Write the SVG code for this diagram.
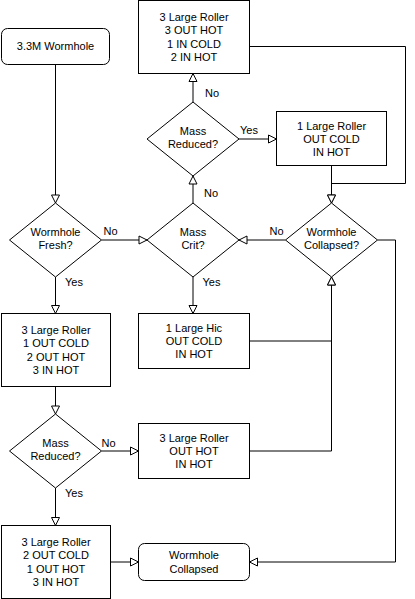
<svg xmlns="http://www.w3.org/2000/svg" width="415" height="599" viewBox="0 0 415 599">
<style>
.s{fill:#fff;stroke:#000;stroke-width:1}
.t{font-family:"Liberation Sans",Arial,sans-serif;font-size:11px;fill:#000;text-anchor:middle}
.c{fill:none;stroke:#000;stroke-width:1}
</style>
<defs>
<marker id="a" markerUnits="userSpaceOnUse" markerWidth="11" markerHeight="11" refX="9" refY="5" orient="auto">
<path d="M1,1 L9,5 L1,9 Z" fill="#fff" stroke="#000" stroke-width="1"/>
</marker>
</defs>
<rect width="415" height="599" fill="#fff"/>
<g id="connectors">
<path class="c" d="M55.5,64.5 V203" marker-end="url(#a)"/>
<path class="c" d="M101.5,240 H147" marker-end="url(#a)"/>
<path class="c" d="M55.5,277 V313.5" marker-end="url(#a)"/>
<path class="c" d="M193,203 V176" marker-end="url(#a)"/>
<path class="c" d="M193,277 V313.5" marker-end="url(#a)"/>
<path class="c" d="M285.5,240 H239" marker-end="url(#a)"/>
<path class="c" d="M193,102 V73.5" marker-end="url(#a)"/>
<path class="c" d="M239,139 H276.5" marker-end="url(#a)"/>
<path class="c" d="M249.5,46.5 H405.5 V183.5 H331.5 V203" marker-end="url(#a)"/>
<path class="c" d="M331.5,165.5 V203" marker-end="url(#a)"/>
<path class="c" d="M377.5,240 H395.5 V562 H249.5" marker-end="url(#a)"/>
<path class="c" d="M249.5,341 H331.5 V277" marker-end="url(#a)"/>
<path class="c" d="M249.5,451 H331.5 V277" marker-end="url(#a)"/>
<path class="c" d="M55.5,386.5 V414" marker-end="url(#a)"/>
<path class="c" d="M101.5,451 H138.5" marker-end="url(#a)"/>
<path class="c" d="M55.5,488 V525.5" marker-end="url(#a)"/>
<path class="c" d="M110.5,562 H138.5" marker-end="url(#a)"/>
<text class="t" x="110.5" y="235">No</text>
<text class="t" x="74" y="285.5">Yes</text>
<text class="t" x="211" y="197">No</text>
<text class="t" x="211.5" y="285.5">Yes</text>
<text class="t" x="276.5" y="235">No</text>
<text class="t" x="212" y="97">No</text>
<text class="t" x="249" y="134">Yes</text>
<text class="t" x="108.5" y="447">No</text>
<text class="t" x="74" y="497">Yes</text>
</g>
<g id="start">
<rect class="s" x="1.5" y="28.5" width="108" height="36" rx="6"/>
<text class="t" x="55.5" y="50">3.3M Wormhole</text>
</g>
<g id="fresh">
<polygon class="s" points="55.5,203 101.5,240 55.5,277 9.5,240"/>
<text class="t" x="55.5" y="236">Wormhole</text>
<text class="t" x="55.5" y="249">Fresh?</text>
</g>
<g id="masscrit">
<polygon class="s" points="193,203 239,240 193,277 147,240"/>
<text class="t" x="193" y="236">Mass</text>
<text class="t" x="193" y="249">Crit?</text>
</g>
<g id="collapsedq">
<polygon class="s" points="331.5,203 377.5,240 331.5,277 285.5,240"/>
<text class="t" x="331.5" y="236">Wormhole</text>
<text class="t" x="331.5" y="249">Collapsed?</text>
</g>
<g id="reducedtop">
<polygon class="s" points="193,102 239,139 193,176 147,139"/>
<text class="t" x="193" y="135">Mass</text>
<text class="t" x="193" y="148">Reduced?</text>
</g>
<g id="reducedbottom">
<polygon class="s" points="55.5,414 101.5,451 55.5,488 9.5,451"/>
<text class="t" x="55.5" y="447">Mass</text>
<text class="t" x="55.5" y="460">Reduced?</text>
</g>
<g id="top3">
<rect class="s" x="138.5" y="0.5" width="111" height="73"/>
<text class="t" x="194" y="21">3 Large Roller</text>
<text class="t" x="194" y="34.3">3 OUT HOT</text>
<text class="t" x="194" y="47.7">1 IN COLD</text>
<text class="t" x="194" y="61">2 IN HOT</text>
</g>
<g id="oneroller">
<rect class="s" x="276.5" y="111.5" width="110" height="54"/>
<text class="t" x="331.5" y="130">1 Large Roller</text>
<text class="t" x="331.5" y="143">OUT COLD</text>
<text class="t" x="331.5" y="156">IN HOT</text>
</g>
<g id="fresh3">
<rect class="s" x="1.5" y="313.5" width="109" height="73"/>
<text class="t" x="56" y="334">3 Large Roller</text>
<text class="t" x="56" y="347.3">1 OUT COLD</text>
<text class="t" x="56" y="360.7">2 OUT HOT</text>
<text class="t" x="56" y="374">3 IN HOT</text>
</g>
<g id="hic">
<rect class="s" x="138.5" y="313.5" width="111" height="55"/>
<text class="t" x="194" y="331.7">1 Large Hic</text>
<text class="t" x="194" y="345">OUT COLD</text>
<text class="t" x="194" y="358.3">IN HOT</text>
</g>
<g id="outhot">
<rect class="s" x="138.5" y="423.5" width="111" height="55"/>
<text class="t" x="194" y="441.7">3 Large Roller</text>
<text class="t" x="194" y="455">OUT HOT</text>
<text class="t" x="194" y="468.3">IN HOT</text>
</g>
<g id="final3">
<rect class="s" x="1.5" y="525.5" width="109" height="73"/>
<text class="t" x="56" y="546">3 Large Roller</text>
<text class="t" x="56" y="559.3">2 OUT COLD</text>
<text class="t" x="56" y="572.7">1 OUT HOT</text>
<text class="t" x="56" y="586">3 IN HOT</text>
</g>
<g id="collapsed">
<rect class="s" x="138.5" y="543.5" width="111" height="37" rx="6"/>
<text class="t" x="194" y="559.3">Wormhole</text>
<text class="t" x="194" y="572.7">Collapsed</text>
</g>
</svg>
